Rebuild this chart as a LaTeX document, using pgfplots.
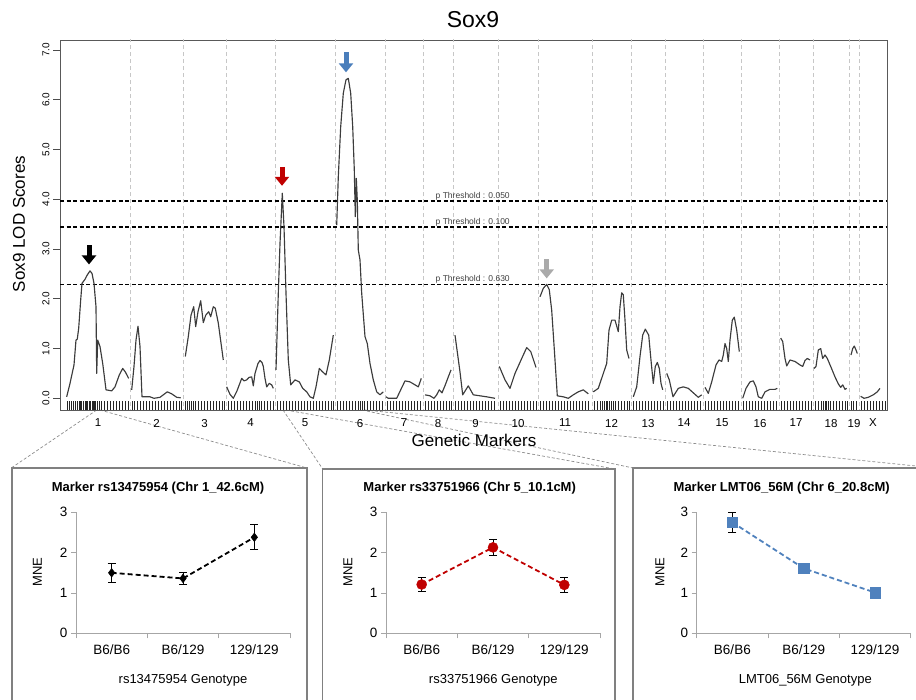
\documentclass[border=0pt]{standalone}
\usepackage{fontspec}
\setmainfont{Liberation Sans}
\usepackage{pgfplots}
\pgfplotsset{compat=1.18}
\usetikzlibrary{arrows.meta}
\definecolor{redc}{RGB}{192,0,0}
\definecolor{bluec}{RGB}{79,129,189}
\definecolor{arrowblue}{RGB}{74,126,187}
\definecolor{arrowgray}{RGB}{170,170,170}
\definecolor{curvec}{RGB}{60,60,60}
\pgfplotsset{
  /pgf/number format/assume math mode=true,
  lod/.style={curvec, line width=1.15pt, line join=round, mark=none, forget plot},
  panel/.style={scale only axis, anchor=south west, width=214pt, height=121pt,
    xmin=0.5, xmax=3.5, ymin=0, ymax=3,
    axis x line=bottom, axis y line=left,
    axis line style={draw=black!35, line width=0.8pt, -},
    tick align=outside, major tick length=5pt,
    tick style={draw=black!35, line width=0.8pt},
    ytick={0,1,2,3},
    xtick={0.5,1.5,2.5,3.5}, xticklabels={},
    extra x ticks={1,2,3}, extra x tick labels={B6/B6,B6/129,129/129},
    extra x tick style={major tick length=0pt},
    ticklabel style={font=\fontsize{13.5}{15}\selectfont},
    xticklabel style={yshift=-8pt},
    clip=false},
  ebar/.style={error bars/.cd, y dir=both, y explicit,
    error bar style={solid, line width=0.8pt, black},
    error mark options={rotate=90, mark size=4pt, solid, line width=0.8pt, black}}
}
\begin{document}
\begin{tikzpicture}
\path[use as bounding box] (0pt,0pt) rectangle (916pt,-700pt);

% zoom connector lines
\begin{scope}[black!45, line width=0.7pt, dash pattern=on 3pt off 2pt]
\draw (96.7pt,-410pt) -- (12pt,-467.5pt);
\draw (100pt,-410pt) -- (307pt,-468pt);
\draw (283pt,-410pt) -- (322.7pt,-469pt);
\draw (286pt,-410pt) -- (615pt,-469pt);
\draw (362pt,-410pt) -- (633pt,-468pt);
\draw (365pt,-410pt) -- (916pt,-466pt);
\end{scope}

% panel frames
\begin{scope}[black!50, line width=1.2pt]
\draw (12pt,-720pt) -- (12pt,-468pt) -- (307pt,-468pt) -- (307pt,-720pt);
\draw (322.7pt,-720pt) -- (322.7pt,-469pt) -- (615pt,-469pt) -- (615pt,-720pt);
\draw (633pt,-720pt) -- (633pt,-468pt) -- (930pt,-468pt);
\end{scope}

\begin{axis}[
  at={(60pt,-410pt)}, anchor=south west, scale only axis,
  width=827pt, height=370pt,
  xmin=60, xmax=887, ymin=-0.235, ymax=7.2,
  axis line style={draw=black!65, line width=0.8pt},
  xtick={98,156.5,204.5,250.5,305,360,404,438,475.5,518,565,611.5,648,684,722,760,796,831,854,873},
  xticklabels={1,2,3,4,5,6,7,8,9,10,11,12,13,14,15,16,17,18,19,X},
  xtick style={draw=none},
  xticklabel style={font=\fontsize{11.5}{13}\selectfont, yshift=1.5pt},
  ytick={0,1,2,3,4,5,6,7},
  yticklabels={0.0,1.0,2.0,3.0,4.0,5.0,6.0,7.0},
  ytick pos=left, tick align=outside, major tick length=7pt,
  ytick style={draw=black!70, line width=0.7pt},
  yticklabel style={rotate=90, anchor=south, font=\fontsize{10}{11}\selectfont},
]
% chromosome boundaries
\pgfplotsinvokeforeach{130,183,226,275,335,385,423,453,498,538,592,631,665,703,741,779,813,849,859}{
  \addplot[black!22, line width=0.8pt, dash pattern=on 4pt off 3pt, forget plot] coordinates {(#1,-0.3) (#1,7.3)};
}
% thresholds
\addplot[black, line width=1.3pt, dash pattern=on 4pt off 2.5pt, forget plot] coordinates {(60,3.965) (887,3.965)};
\addplot[black, line width=1.3pt, dash pattern=on 4pt off 2.5pt, forget plot] coordinates {(60,3.44) (887,3.44)};
\addplot[black, line width=1.3pt, dash pattern=on 4pt off 2.5pt, forget plot] coordinates {(60,2.29) (887,2.29)};
\node[anchor=south west, inner sep=0.5pt, font=\fontsize{8.5}{9}\selectfont, text=black!75] at (axis cs:435,3.965) {p Threshold : 0.050};
\node[anchor=south west, inner sep=0.5pt, font=\fontsize{8.5}{9}\selectfont, text=black!75] at (axis cs:435,3.44) {p Threshold : 0.100};
\node[anchor=south west, inner sep=0.5pt, font=\fontsize{8.5}{9}\selectfont, text=black!75] at (axis cs:435,2.29) {p Threshold : 0.630};

% LOD curve, one segment per chromosome
\addplot[lod] coordinates {(66.7,0.03) (70,0.30) (74,0.67) (76,1.17) (77.3,1.19) (78.7,1.41) (80.7,1.98) (82,2.31) (85,2.39) (87.3,2.48) (90,2.56) (92,2.51) (94,2.31) (96,1.84) (96.7,0.50) (97.7,1.17) (100,1.04) (102.7,0.70) (106,0.17) (111.7,0.15) (115,0.23) (119.3,0.47) (122.7,0.60) (125.3,0.53) (128.7,0.40)};
\addplot[lod] coordinates {(131.7,0.17) (134,0.64) (136,1.17) (138,1.45) (140,1.04) (142,0.03) (150,0.03) (154,0.0) (160,0.02) (164,0.08) (167.3,0.13) (171.7,0.09) (176.7,0.02) (180.7,0.01)};
\addplot[lod] coordinates {(185.3,0.84) (188.3,1.24) (191,1.67) (193.7,1.84) (195.7,1.44) (198,1.74) (200.7,1.96) (203.3,1.52) (205.7,1.67) (208.7,1.74) (210.7,1.64) (213.3,1.84) (215.3,1.81) (218.3,1.51) (223.3,0.77)};
\addplot[lod] coordinates {(226.7,0.23) (230,0.08) (233.3,0.0) (237,0.15) (241.7,0.40) (244,0.35) (246.7,0.37) (249,0.42) (251.7,0.43) (253.3,0.25) (255,0.50) (258,0.70) (260,0.76) (262,0.72) (263.3,0.64) (265,0.40) (266.7,0.23) (269.3,0.30) (271.7,0.27) (273.3,0.20)};
\addplot[lod] coordinates {(276,0.57) (278.3,2.11) (280,3.11) (282.3,4.12) (284,3.45) (286,2.11) (288.3,0.77) (290.7,0.27) (295,0.37) (299.3,0.33) (302.7,0.20) (306.7,0.13) (310,0.03) (313.3,0.0) (316,0.23) (319.3,0.60) (322.7,0.53) (326,0.47) (329.3,0.77) (333.3,1.27)};
\addplot[lod] coordinates {(336.7,3.48) (338.3,4.45) (340.7,5.46) (343.3,6.13) (346,6.40) (348.3,6.43) (350.7,6.13) (352.7,5.46) (354.3,4.59) (355.3,3.65) (356.3,4.42) (357.3,3.98) (358.3,2.98) (360,2.78) (361.7,2.11) (365,1.24) (367.3,1.10) (370,0.70) (373.3,0.37) (376.7,0.13) (380,0.07) (383.3,0.13)};
\addplot[lod] coordinates {(386,0.03) (388.3,0.0) (392.7,0.0) (396.7,0.0) (400.7,0.17) (405,0.35) (410,0.33) (415,0.27) (418.3,0.23) (421.3,0.40)};
\addplot[lod] coordinates {(425,0.07) (430,0.05) (434,0.0) (436.7,0.07) (439.3,0.17) (442,0.11) (445.3,0.27) (448.3,0.43) (451,0.57)};
\addplot[lod] coordinates {(455,1.27) (460,0.53) (462.7,0.07) (468.3,0.25) (473.3,0.07) (480,0.05) (486.7,0.03) (495,0.0)};
\addplot[lod] coordinates {(499.3,0.64) (505,0.37) (510,0.20) (515,0.50) (521.7,0.80) (526.7,1.02) (530.7,0.94) (536,0.62)};
\addplot[lod] coordinates {(540,2.04) (543.3,2.21) (546.7,2.29) (549.3,2.18) (551.7,1.77) (555,0.77) (557.3,0.05) (563.3,0.03) (568.3,0.0) (573.3,0.07) (578.3,0.13) (583.3,0.17) (588.3,0.09)};
\addplot[lod] coordinates {(593.3,0.13) (598.3,0.20) (603.3,0.50) (606.7,0.70) (609,1.37) (611.7,1.57) (615,1.57) (618.3,1.34) (620,1.84) (621.7,2.12) (623.3,2.08) (625,1.57) (626.7,0.97) (629,0.80)};
\addplot[lod] coordinates {(633.3,0.03) (636.7,0.23) (640,0.84) (642.7,1.27) (645.3,1.39) (648.7,1.27) (651.3,0.70) (653.3,0.30) (655.3,0.64) (657.3,0.72) (659.3,0.60) (661,0.30) (662.7,0.17)};
\addplot[lod] coordinates {(666.7,0.50) (669.3,0.37) (673,0.03) (678.3,0.20) (683.3,0.23) (688.3,0.20) (693.3,0.11) (698.3,0.02) (701.7,0.07)};
\addplot[lod] coordinates {(705,0.22) (708.3,0.10) (711.7,0.33) (716,0.67) (719,0.77) (721.7,0.74) (723.3,0.87) (725,1.10) (726.7,1.00) (728.3,0.74) (730,1.17) (732.3,1.57) (734.3,1.63) (736.7,1.37) (739.3,0.94)};
\addplot[lod] coordinates {(742.7,0.0) (746,0.20) (750,0.33) (753.3,0.35) (756,0.23) (758.3,0.03) (761.7,0.0) (765,0.13) (770,0.18) (775,0.18) (777.3,0.20)};
\addplot[lod] coordinates {(780.7,1.21) (782.7,1.14) (785,0.80) (786.7,0.65) (790,0.77) (795,0.74) (800,0.67) (802.7,0.64) (805,0.76) (807.3,0.80) (810,0.77)};
\addplot[lod] coordinates {(814,0.60) (816,0.64) (818.3,0.97) (820.7,1.00) (822.7,0.80) (825,0.87) (827.3,0.80) (830.7,0.64) (835,0.43) (838.3,0.29) (840.7,0.22) (842.7,0.27) (845,0.18) (846.7,0.20)};
\addplot[lod] coordinates {(851,0.87) (852.7,1.00) (854.3,1.05) (856,0.97) (857.3,0.90)};
\addplot[lod] coordinates {(860.7,0.04) (864,0.0) (868.3,0.02) (873.3,0.07) (877.3,0.13) (880,0.20)};

% marker rug
\addplot[only marks, mark=|, mark size=4.5pt, mark options={line width=0.6pt, black!85}, forget plot]
 table[row sep=\\, header=false, x index=0, y expr=-0.145] {
67\\69\\71\\73\\75\\77\\79\\80\\81\\83\\85\\86\\87\\89\\90\\92\\93\\94\\95\\97\\99\\101\\104\\107\\110\\113\\116\\119\\122\\125\\128\\
132\\134\\137\\140\\143\\146\\149\\152\\155\\158\\161\\164\\167\\170\\173\\176\\179\\181\\
185\\187\\189\\191\\193\\195\\198\\201\\204\\207\\210\\213\\216\\219\\222\\224\\
228\\231\\234\\237\\240\\243\\246\\249\\252\\255\\257\\259\\261\\264\\267\\270\\273\\
277\\280\\283\\286\\289\\292\\295\\298\\301\\304\\307\\310\\313\\316\\319\\322\\325\\328\\331\\333\\
337\\340\\343\\346\\349\\352\\355\\358\\360\\362\\364\\367\\370\\373\\376\\379\\382\\
387\\390\\393\\396\\399\\402\\405\\408\\411\\414\\417\\420\\
425\\428\\431\\434\\437\\440\\443\\446\\449\\451\\
455\\458\\461\\464\\467\\470\\473\\476\\479\\482\\485\\488\\491\\494\\
500\\503\\506\\509\\512\\515\\518\\521\\524\\527\\530\\533\\536\\
540\\543\\546\\549\\552\\555\\558\\561\\564\\567\\570\\573\\576\\579\\582\\585\\588\\
594\\597\\600\\602\\604\\606\\607\\609\\611\\613\\615\\618\\621\\624\\627\\629\\
633\\636\\639\\642\\645\\648\\651\\654\\657\\660\\663\\
667\\670\\673\\676\\679\\682\\685\\688\\691\\694\\697\\700\\
705\\708\\711\\714\\717\\720\\723\\726\\729\\732\\735\\738\\
743\\746\\749\\752\\755\\758\\761\\764\\767\\770\\773\\776\\
781\\784\\787\\790\\793\\796\\799\\802\\805\\808\\811\\
815\\818\\821\\823\\825\\826\\828\\830\\833\\836\\839\\842\\845\\847\\
851\\853\\856\\
861\\864\\867\\870\\873\\876\\879\\882\\885\\
};

% peak arrows
\draw[black, line width=5pt, -{Triangle[width=14pt,length=9pt]}] (axis cs:89,3.08) -- (axis cs:89,2.69);
\draw[redc, line width=5pt, -{Triangle[width=14pt,length=9pt]}] (axis cs:282,4.65) -- (axis cs:282,4.27);
\draw[arrowblue, line width=5pt, -{Triangle[width=14pt,length=9pt]}] (axis cs:346,6.95) -- (axis cs:346,6.55);
\draw[arrowgray, line width=5pt, -{Triangle[width=14pt,length=9pt]}] (axis cs:546.7,2.79) -- (axis cs:546.7,2.41);
\end{axis}

\node[font=\fontsize{23}{26}\selectfont] at (473pt,-20pt) {Sox9};
\node[font=\fontsize{17}{19}\selectfont, rotate=90] at (19pt,-224pt) {Sox9 LOD Scores};
\node[font=\fontsize{17}{19}\selectfont] at (474pt,-440pt) {Genetic Markers};

% panel 1
\begin{axis}[panel, at={(76pt,-633.3pt)}]
\addplot[black, line width=1.8pt, dash pattern=on 5pt off 3pt, mark=diamond*, mark size=4.3pt,
  mark options={solid, fill=black, line width=0.5pt}, ebar]
  coordinates {(1,1.50) +- (0,0.24) (2,1.36) +- (0,0.14) (3,2.38) +- (0,0.31)};
\end{axis}
% panel 2
\begin{axis}[panel, at={(386pt,-633.3pt)}]
\addplot[redc, line width=1.8pt, dash pattern=on 5pt off 3pt, mark=*, mark size=5pt,
  mark options={solid, fill=redc, draw=redc, line width=0.5pt}, ebar]
  coordinates {(1,1.21) +- (0,0.17) (2,2.13) +- (0,0.20) (3,1.20) +- (0,0.19)};
\end{axis}
% panel 3
\begin{axis}[panel, at={(696.7pt,-633.3pt)}]
\addplot[bluec, line width=1.8pt, dash pattern=on 5pt off 3pt, mark=square*, mark size=5.2pt,
  mark options={solid, fill=bluec, draw=bluec, line width=0.5pt}, ebar]
  coordinates {(1,2.75) +- (0,0.24) (2,1.61) +- (0,0.13) (3,1.01) +- (0,0.12)};
\end{axis}

\node[font=\bfseries\fontsize{13}{15}\selectfont] at (158pt,-488pt) {Marker rs13475954 (Chr 1\_42.6cM)};
\node[font=\bfseries\fontsize{13}{15}\selectfont] at (469.7pt,-488pt) {Marker rs33751966 (Chr 5\_10.1cM)};
\node[font=\bfseries\fontsize{13}{15}\selectfont] at (781.7pt,-488pt) {Marker LMT06\_56M (Chr 6\_20.8cM)};
\node[rotate=90, font=\fontsize{13}{15}\selectfont] at (37.5pt,-572pt) {MNE};
\node[rotate=90, font=\fontsize{13}{15}\selectfont] at (348pt,-572pt) {MNE};
\node[rotate=90, font=\fontsize{13}{15}\selectfont] at (660pt,-572pt) {MNE};
\node[font=\fontsize{13}{15}\selectfont] at (183pt,-680pt) {rs13475954 Genotype};
\node[font=\fontsize{13}{15}\selectfont] at (493.3pt,-680pt) {rs33751966 Genotype};
\node[font=\fontsize{13}{15}\selectfont] at (805.3pt,-680pt) {LMT06\_56M Genotype};
\end{tikzpicture}
\end{document}
